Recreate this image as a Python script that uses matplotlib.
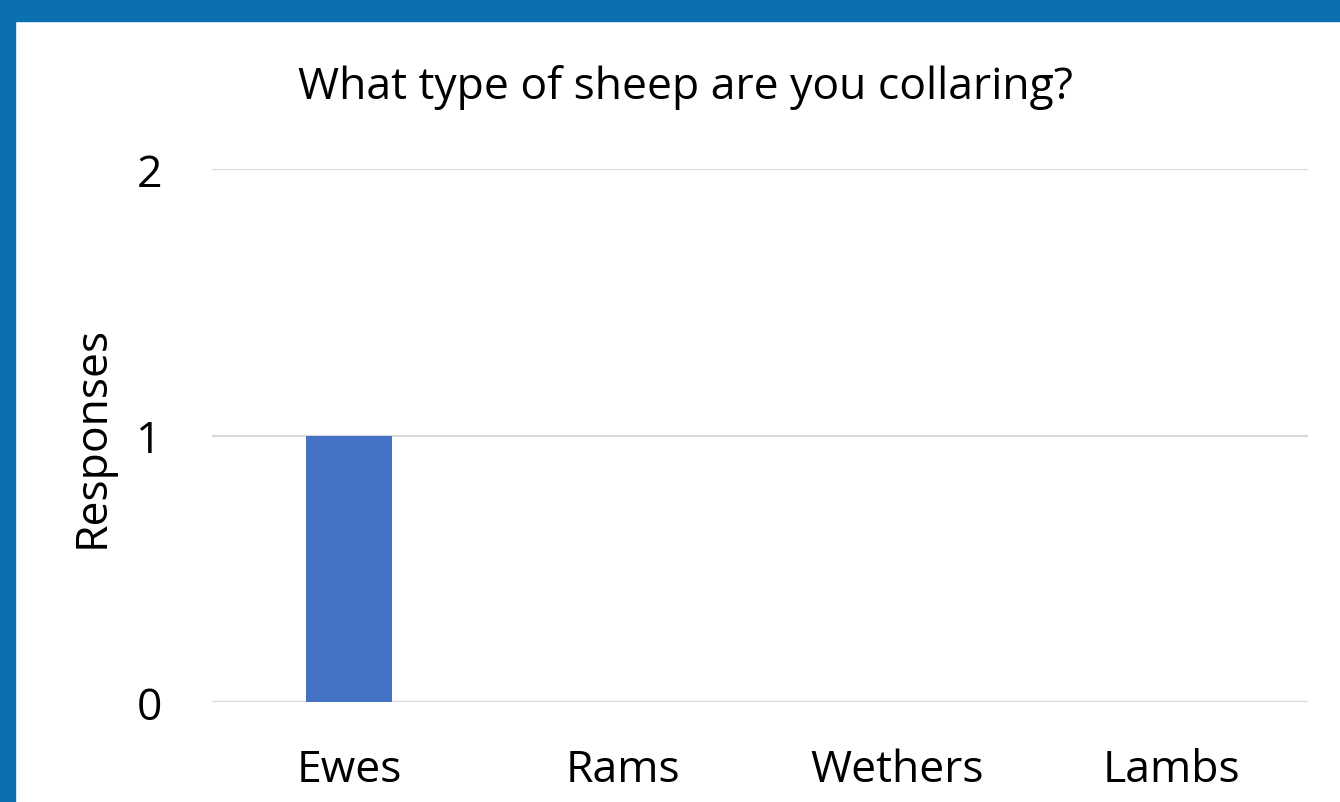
import matplotlib.pyplot as plt
import matplotlib.patches as mpatches

# survey counts per sheep type
categories = ["Ewes", "Rams", "Wethers", "Lambs"]
responses = [1, 0, 0, 0]
yticks = [0, 1, 2]

W, H = 1340, 803
fig = plt.figure(figsize=(W / 100, H / 100), dpi=100)
fig.patch.set_facecolor("white")

# blue frame along the top and left edges
blue = "#0B70B0"
fig.patches.append(mpatches.Rectangle((0, 1 - 22 / H), 1, 22 / H,
                                      transform=fig.transFigure, color=blue, zorder=0))
fig.patches.append(mpatches.Rectangle((0, 0), 15 / W, 1,
                                      transform=fig.transFigure, color=blue, zorder=0))

ax = fig.add_axes([212 / W, 100 / H, 1096 / W, 533 / H])
x = range(len(categories))
ax.bar(x, responses, width=0.314, color="#4472C4", zorder=3)

ax.set_xlim(-0.5, len(categories) - 0.5)
ax.set_ylim(0, 2)
ax.set_yticks(yticks)
ax.set_xticks(list(x))
ax.set_xticklabels(categories)
ax.grid(axis="y", color="#D9D9D9", linewidth=1.6, zorder=0)
ax.set_axisbelow(True)
for s in ax.spines.values():
    s.set_visible(False)
ax.axhline(0, color="#D9D9D9", linewidth=1.6, zorder=2)
ax.tick_params(length=0, labelsize=32, colors="black")
ax.tick_params(axis="y", pad=36)
ax.tick_params(axis="x", pad=33)
for lab in ax.get_xticklabels() + ax.get_yticklabels():
    lab.set_family("Open Sans")

ax.set_ylabel("Responses", fontsize=32, family="Open Sans", labelpad=16)

fig.text(686 / W, 1 - 88 / H, "What type of sheep are you collaring?",
         ha="center", va="center", fontsize=32, family="Open Sans")

fig.savefig("out.png", dpi=100)
